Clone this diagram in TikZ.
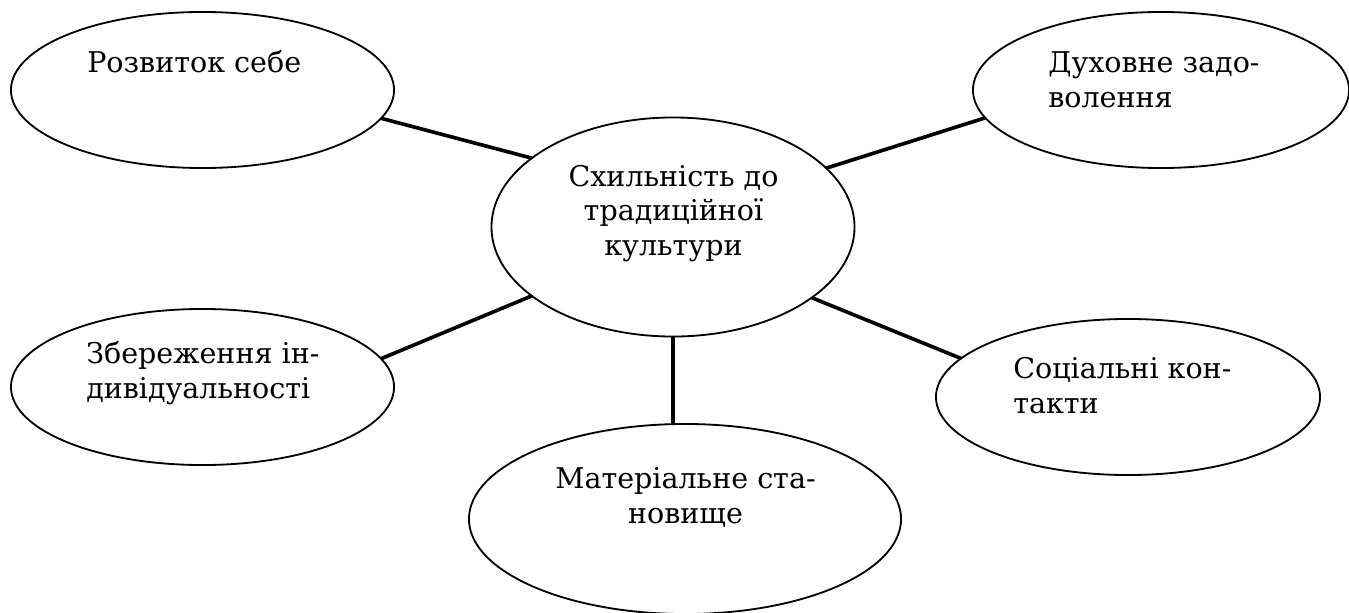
\documentclass[tikz,border=0pt]{standalone}
\usepackage{fontspec}
\setmainfont{DejaVu Serif}
\newfontfamily\bubblefont{DejaVu Serif}
\usetikzlibrary{
    shapes.geometric
}
\tikzset{
    % Bubbles
    bubble/.style={ellipse,draw,line width=1.3pt,inner sep=0pt,outer sep=0pt},
    %
    % Texts
    bubble text/.style={inner sep=0pt,align=left,anchor=base west},
    centre text/.style={inner sep=0pt,align=center,anchor=base},
    %
    % Connectors
    link/.style={line width=2.6pt}
}
\tikzstyle{every node}=[font=\bubblefont\fontsize{20.3pt}{24.2pt}\selectfont]

\begin{document}
\begin{tikzpicture}[x=.025cm,y=-.025cm]
        \useasboundingbox (0,0) rectangle (1349,612);

        \node[bubble,minimum width=9.075cm,minimum height=5.475cm] (centre) at (673,227) {};
        \node[bubble,minimum width=9.575cm,minimum height=3.9cm] (self) at (202.5,90) {};
        \node[bubble,minimum width=9.4cm,minimum height=3.9cm] (spirit) at (1161,90) {};
        \node[bubble,minimum width=9.575cm,minimum height=3.9cm] (indiv) at (202.5,387) {};
        \node[bubble,minimum width=10.8cm,minimum height=4.75cm] (material) at (685,519) {};
        \node[bubble,minimum width=9.6cm,minimum height=3.9cm] (social) at (1128,397) {};

        % labels sit on the baseline of their last line
        \node[centre text] (centre label) at (673.5,255) {Схильність до\\традиційної\\культури};
        \node[bubble text] (self label) at (87,72) {Розвиток себе};
        \node[bubble text] (spirit label) at (1048,107) {Духовне задо-\\волення};
        \node[bubble text] (indiv label) at (86,398) {Збереження ін-\\дивідуальності};
        \node[centre text] (material label) at (685.5,523) {Матеріальне ста-\\новище};
        \node[bubble text] (social label) at (1013,413) {Соціальні кон-\\такти};

        \draw[link] (self.-9) -- (centre.154);
        \draw[link] (spirit.-171) -- (centre.21.5);
        \draw[link] (indiv.9.6) -- (centre.-154);
        \draw[link] (social.167) -- (centre.-27.6);
        \draw[link] (centre.south) -- (centre.south |- material.north);
    \end{tikzpicture}
\end{document}
